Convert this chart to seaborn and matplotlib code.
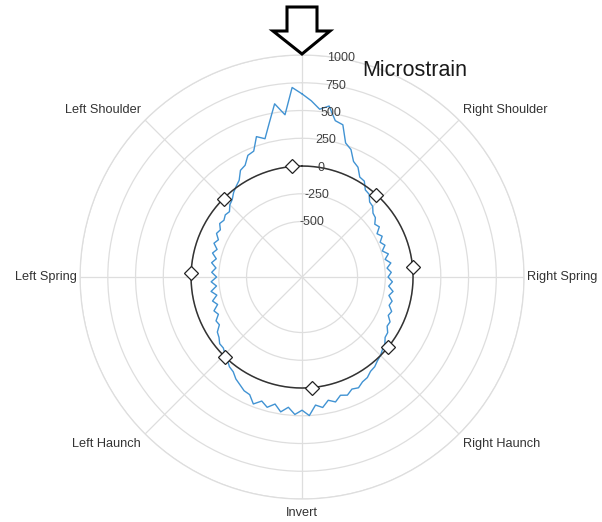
import numpy as np
import matplotlib.pyplot as plt
import seaborn as sns
from matplotlib.patches import Polygon

sns.set_style("white")
plt.rcParams["font.family"] = ["Liberation Sans", "DejaVu Sans"]

# strain, every 3 degrees clockwise from the crown
angle_deg = np.arange(0, 360, 3)
strain = [
    650, 590, 520, 560, 440, 420, 270, 230, 140, 110,
    40, 30, -30, -40, -90, -100, -140, -150, -190, -170,
    -220, -190, -230, -200, -240, -195, -235, -190, -230, -195,
    -225, -185, -215, -170, -200, -160, -175, -135, -150, -110,
    -115, -80, -75, -40, -25, 0, 15, 40, 50, 80,
    90, 120, 105, 140, 120, 165, 135, 190, 160, 250,
    200, 240, 180, 230, 170, 215, 175, 225, 160, 150,
    120, 95, 55, 40, 5, -20, -45, -45, -75, -90,
    -140, -130, -175, -150, -200, -165, -215, -170, -225, -180,
    -230, -185, -220, -175, -210, -165, -195, -150, -175, -135,
    -150, -115, -130, -110, -120, -80, -60, -20, 10, 40,
    110, 130, 200, 215, 330, 290, 420, 580, 470, 710,
]

sensor_deg = [-5, 42, 85, 129, 175, 224, 272, 315]
sensor_strain = [0, 0, 0, 0, 0, 0, 0, 0]

label_deg = [45, 90, 135, 180, 225, 270, 315]
label_names = ["Right Shoulder", "Right Spring", "Right Haunch", "Invert",
               "Left Haunch", "Left Spring", "Left Shoulder"]
rticks = [-500, -250, 0, 250, 500, 750, 1000]

fig = plt.figure(figsize=(6.02, 5.22), dpi=100)
ax = fig.add_axes([0.133, 0.044, 0.7375, 0.8506], projection="polar")
ax.set_theta_zero_location("N")
ax.set_theta_direction(-1)

# measured strain
th = np.deg2rad(np.append(angle_deg, 360))
rr = np.append(strain, strain[0])
sns.lineplot(x=th, y=rr, sort=False, estimator=None, ax=ax,
             color="#4193d3", lw=1.0)

# zero reference circle with gauge positions
ring = np.linspace(0, 2 * np.pi, 361)
sns.lineplot(x=ring, y=np.zeros_like(ring), sort=False, estimator=None, ax=ax,
             color="#333333", lw=1.1)
ax.plot(np.deg2rad(sensor_deg), sensor_strain, ls="none", marker="D", ms=7,
        mfc="white", mec="#222222", mew=0.9)

ax.set_ylim(-1000, 1000)
ax.set_yticks(rticks)
ax.set_yticklabels([])
ax.set_xticks(np.deg2rad(np.arange(0, 360, 45)))
ax.set_xticklabels([])
ax.set_xlabel("")
ax.set_ylabel("")
ax.grid(True, color="#dedede", lw=0.9)
ax.spines["polar"].set_color("#dedede")
ax.spines["polar"].set_linewidth(0.9)

for r in rticks:
    ax.text(np.deg2rad(10), r, str(r), ha="center", va="center",
            fontsize=9, color="#404040")

for a, name in zip(label_deg, label_names):
    s, c = np.sin(np.deg2rad(a)), np.cos(np.deg2rad(a))
    ha = "left" if s > 0.1 else ("right" if s < -0.1 else "center")
    va = "bottom" if c > 0.1 else ("top" if c < -0.1 else "center")
    ax.text(np.deg2rad(a), 1030 + 38 * abs(c), name, ha=ha, va=va,
            fontsize=9.2, color="#333333")

fig.text(362 / 602, 1 - 70 / 522, "Microstrain", fontsize=15.5,
         ha="left", va="center", color="#1a1a1a")

# load arrow at the crown
arrow_px = [(287, 7), (317, 7), (317, 31), (330, 31), (302, 54), (273, 31), (287, 31)]
arrow = Polygon([(x / 602, 1 - y / 522) for x, y in arrow_px], closed=True,
                facecolor="white", edgecolor="black", lw=2.2,
                transform=fig.transFigure, joinstyle="miter")
fig.add_artist(arrow)

fig.savefig("out.png", dpi=100)
